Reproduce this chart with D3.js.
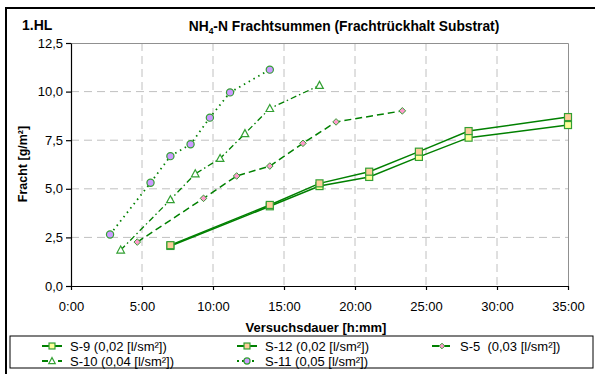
<!DOCTYPE html>
<html><head><meta charset="utf-8">
<script src="https://cdn.jsdelivr.net/npm/d3@7"></script>
<style>
html,body{margin:0;padding:0;background:#fff;}
svg{display:block;font-family:"Liberation Sans",Arial,sans-serif;}
</style></head>
<body><svg id="c" width="595" height="374"></svg>
<script>
// Data (x in hours, y in g/m²)
const s9X  = [7, 14, 17.5, 21, 24.5, 28, 35];
const s9Y  = [2.06, 4.10, 5.14, 5.61, 6.64, 7.63, 8.28];
const s12X = [7, 14, 17.5, 21, 24.5, 28, 35];
const s12Y = [2.10, 4.17, 5.28, 5.88, 6.91, 7.97, 8.69];
const s5X  = [4.667, 9.333, 11.667, 14, 16.333, 18.667, 23.333];
const s5Y  = [2.26, 4.51, 5.66, 6.17, 7.34, 8.44, 9.01];
const s10X = [3.5, 7, 8.75, 10.5, 12.25, 14, 17.5];
const s10Y = [1.85, 4.44, 5.77, 6.56, 7.84, 9.13, 10.32];
const s11X = [2.75, 5.6, 7, 8.42, 9.78, 11.2, 14];
const s11Y = [2.65, 5.31, 6.68, 7.29, 8.66, 9.96, 11.13];
const xTicks = [0, 5, 10, 15, 20, 25, 30, 35];
const yTicks = [0, 2.5, 5, 7.5, 10, 12.5];
const seriesNames = ["S-9 (0,02 [l/sm²])", "S-12 (0,02 [l/sm²])", "S-5  (0,03 [l/sm²])", "S-10 (0,04 [l/sm²])", "S-11 (0,05 [l/sm²])"];

const svg = d3.select("#c");
const L = 71, R = 568, T = 43, B = 286;
const x = d3.scaleLinear().domain([0, 35]).range([L, R]);
const y = d3.scaleLinear().domain([0, 12.5]).range([B, T]);

const lineCol = "#008000", mkStroke = "#33a033";

// outer border
svg.append("rect").attr("x", 6).attr("y", 8).attr("width", 620).attr("height", 400)
  .attr("fill", "none").attr("stroke", "#000").attr("stroke-width", 2);

// grid
const grid = svg.append("g");
xTicks.slice(1, -1).forEach(t => grid.append("line").attr("x1", x(t)).attr("x2", x(t)).attr("y1", T).attr("y2", B)
  .attr("stroke", "#c0c0c0").attr("stroke-dasharray", "8,5"));
yTicks.slice(1, -1).forEach(t => grid.append("line").attr("y1", y(t)).attr("y2", y(t)).attr("x1", L).attr("x2", R)
  .attr("stroke", "#c0c0c0").attr("stroke-dasharray", "8,5"));
// plot border top/right
svg.append("path").attr("d", `M${L},${T + 0.5}H${R + 0.5}V${B}`).attr("fill", "none").attr("stroke", "#909090");

// axes
const fmt = h => `${Math.floor(h)}:${String(Math.round((h % 1) * 60)).padStart(2, "0")}`;
const xAxis = svg.append("g").attr("transform", `translate(0,${B})`)
  .call(d3.axisBottom(x).tickValues(xTicks).tickFormat(fmt).tickSize(4).tickSizeOuter(0));
const yAxis = svg.append("g").attr("transform", `translate(${L},0)`)
  .call(d3.axisLeft(y).tickValues(yTicks).tickFormat(d => d3.format(".1f")(d).replace(".", ",")).tickSize(5).tickSizeOuter(0));
[xAxis, yAxis].forEach(a => {
  a.selectAll("path,line").attr("stroke", "#000").attr("stroke-width", 1.2);
  a.selectAll("text").attr("font-size", 13).attr("fill", "#000").attr("font-family", "Liberation Sans, Arial, sans-serif");
});
xAxis.selectAll("text").attr("dy", 0).attr("y", 25);
yAxis.selectAll("text").attr("x", -8);

// series
const mkLine = d3.line().x(d => x(d[0])).y(d => y(d[1]));
const zip = (a, b) => a.map((v, i) => [v, b[i]]);
const series = [
  {pts: zip(s9X, s9Y), dash: null, w: 1.5, marker: "square", fill: "#ffff99"},
  {pts: zip(s12X, s12Y), dash: null, w: 1.5, marker: "square", fill: "#ffcc99"},
  {pts: zip(s5X, s5Y), dash: "7,4", w: 1.5, marker: "diamond", fill: "#ff99cc"},
  {pts: zip(s10X, s10Y), dash: "6,3,1.5,3", w: 1.3, marker: "triangle", fill: "#ffffff"},
  {pts: zip(s11X, s11Y), dash: "1.5,4", w: 1.8, marker: "circle", fill: "#cc99ff"}
];
function drawMarker(g, type, fill, cx, cy, small) {
  const k = small ? 0.85 : 1;
  if (type === "square") g.append("rect").attr("x", cx - 3.5 * k).attr("y", cy - 3.5 * k).attr("width", 7 * k).attr("height", 7 * k)
    .attr("fill", fill).attr("stroke", mkStroke).attr("stroke-width", 1.2);
  else if (type === "diamond") g.append("path").attr("d", `M${cx},${cy - 3.3 * k}L${cx + 3.3 * k},${cy}L${cx},${cy + 3.3 * k}L${cx - 3.3 * k},${cy}Z`)
    .attr("fill", fill).attr("stroke", mkStroke).attr("stroke-width", 1);
  else if (type === "triangle") g.append("path").attr("d", `M${cx},${cy - 4 * k}L${cx + 3.8 * k},${cy + 3 * k}L${cx - 3.8 * k},${cy + 3 * k}Z`)
    .attr("fill", fill).attr("stroke", mkStroke).attr("stroke-width", 1.2);
  else g.append("circle").attr("cx", cx).attr("cy", cy).attr("r", 3.6 * k)
    .attr("fill", fill).attr("stroke", mkStroke).attr("stroke-width", 1.2);
}
series.forEach(s => {
  svg.append("path").attr("d", mkLine(s.pts)).attr("fill", "none").attr("stroke", lineCol)
    .attr("stroke-width", s.w).attr("stroke-dasharray", s.dash);
});
series.forEach(s => {
  const g = svg.append("g");
  s.pts.forEach(p => drawMarker(g, s.marker, s.fill, x(p[0]), y(p[1])));
});

// titles
svg.append("text").attr("x", 22).attr("y", 30).attr("font-size", 14).attr("font-weight", "bold").text("1.HL");
const tt = svg.append("text").attr("x", 344).attr("y", 30.5).attr("text-anchor", "middle").attr("font-size", 13.8).attr("font-weight", "bold");
tt.append("tspan").text("NH");
tt.append("tspan").attr("font-size", 8.5).attr("dy", 3).text("4");
tt.append("tspan").attr("dy", -3).text("-N Frachtsummen (Frachtrückhalt Substrat)");
svg.append("text").attr("transform", "translate(26.5,164) rotate(-90)").attr("text-anchor", "middle")
  .attr("font-size", 12.5).attr("font-weight", "bold").text("Fracht [g/m²]");
svg.append("text").attr("x", 316).attr("y", 332).attr("text-anchor", "middle")
  .attr("font-size", 13).attr("font-weight", "bold").text("Versuchsdauer [h:mm]");

// legend
svg.append("rect").attr("x", 10).attr("y", 336).attr("width", 583).attr("height", 32)
  .attr("fill", "#fff").attr("stroke", "#000").attr("stroke-width", 1);
const legPos = [[42, 346], [237, 346], [432, 346], [42, 361], [237, 361]];
series.forEach((s, i) => {
  const [lx, ly] = legPos[i];
  const g = svg.append("g");
  g.append("line").attr("x1", lx).attr("x2", lx + 20).attr("y1", ly).attr("y2", ly).attr("stroke", lineCol)
    .attr("stroke-width", 2).attr("stroke-dasharray", s.dash ? (s.marker === "circle" ? "2,3" : (s.marker === "triangle" ? "6,4,2,4" : "7,4")) : null);
  drawMarker(g, s.marker, s.fill, lx + 10, ly, true);
  g.append("text").attr("x", lx + 28).attr("y", ly + 4.5).attr("font-size", 13).attr("xml:space", "preserve")
    .style("white-space", "pre").text(seriesNames[i]);
});
</script></body></html>
